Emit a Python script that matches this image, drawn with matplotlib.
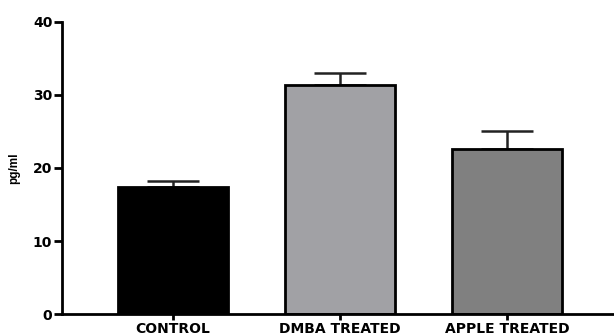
import matplotlib
matplotlib.use("Agg")
import matplotlib.pyplot as plt

plt.rcParams['font.family'] = ['DejaVu Sans']

groups = ["CONTROL", "DMBA TREATED", "APPLE TREATED"]
means = [17.4, 31.4, 22.6]
sem = [0.8, 1.6, 2.5]
colors = ["#000000", "#a1a1a5", "#808080"]

fig = plt.figure(figsize=(6.14, 3.36), dpi=100)
ax = fig.add_axes([0.101, 0.065, 0.899, 0.87])

x = list(range(len(groups)))
ax.bar(x, means, width=0.66, color=colors, edgecolor="black", linewidth=2, zorder=2)
ax.errorbar(x, means, yerr=[[0] * len(sem), sem], fmt="none", ecolor="#222222",
            elinewidth=1.8, capsize=19, capthick=1.8, zorder=1)

ax.set_xlim(-0.665, 2.64)
ax.set_ylim(0, 40)
ax.set_yticks([0, 10, 20, 30, 40])
ax.set_xticks(x)
ax.set_xticklabels(groups, fontsize=10, fontweight="bold")
for lab in ax.get_yticklabels():
    lab.set_fontweight("bold")
    lab.set_fontsize(10)
ax.set_ylabel("pg/ml", fontsize=8.5, fontweight="bold", family="Liberation Sans")
ax.yaxis.set_label_coords(-0.075, 0.5)

for s in ["top", "right"]:
    ax.spines[s].set_visible(False)
for s in ["left", "bottom"]:
    ax.spines[s].set_linewidth(2)
ax.tick_params(axis="y", width=2, length=6, pad=1)
ax.tick_params(axis="x", width=2, length=4.5, pad=1.5)

fig.savefig("out.png", dpi=100)
